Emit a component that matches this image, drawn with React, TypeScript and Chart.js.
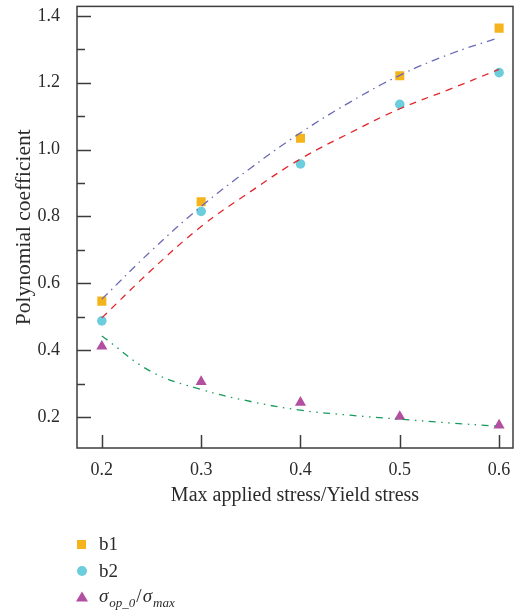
import React, { useEffect, useRef } from 'react';
import { Chart, registerables } from 'chart.js';

Chart.register(...registerables);

// ---- data ----
const stressRatios = [0.2, 0.3, 0.4, 0.5, 0.6];
const b1Values = [0.547, 0.844, 1.034, 1.221, 1.363];
const b2Values = [0.488, 0.815, 0.957, 1.135, 1.23];
const sigmaRatioValues = [0.412, 0.306, 0.244, 0.202, 0.176];

const fitX = [0.2, 0.25, 0.3, 0.35, 0.4, 0.45, 0.5, 0.55, 0.6];
const b1Fit = [0.553, 0.698, 0.83, 0.945, 1.05, 1.142, 1.222, 1.285, 1.335];
const b2Fit = [0.497, 0.64, 0.77, 0.875, 0.972, 1.05, 1.122, 1.18, 1.24];
const sigmaRatioFit = [0.443, 0.336, 0.283, 0.247, 0.221, 0.206, 0.194, 0.183, 0.173];

const xTickValues = [0.2, 0.3, 0.4, 0.5, 0.6];
const yTickValues = [0.2, 0.4, 0.6, 0.8, 1.0, 1.2, 1.4];
const yMinorTickValues = [0.3, 0.5, 0.7, 0.9, 1.1, 1.3];

const xTitle = 'Max applied stress/Yield stress';
const yTitle = 'Polynomial coefficient';

const SERIF = '"Liberation Serif", "DejaVu Serif", serif';
const TEXT = '#2b2b2b';
const AXIS = '#3c3c3c';
const C_B1 = '#f5b41c';
const C_B2 = '#6ccddd';
const C_SIG = '#b34fa0';

const pts = (xs: number[], ys: number[]) => xs.map((x, i) => ({ x, y: ys[i] }));

const framePlugin = {
  id: 'frameTicks',
  beforeDatasetsDraw(chart: any) {
    const { ctx, chartArea: a, scales } = chart;
    const x = scales.x;
    const y = scales.y;
    ctx.save();
    ctx.strokeStyle = AXIS;
    ctx.lineWidth = 1.5;
    ctx.strokeRect(a.left, a.top, a.right - a.left, a.bottom - a.top);
    ctx.beginPath();
    yTickValues.forEach((v) => {
      const py = Math.round(y.getPixelForValue(v)) + 0.5;
      ctx.moveTo(a.left, py);
      ctx.lineTo(a.left + 14, py);
    });
    yMinorTickValues.forEach((v) => {
      const py = Math.round(y.getPixelForValue(v)) + 0.5;
      ctx.moveTo(a.left, py);
      ctx.lineTo(a.left + 8, py);
    });
    xTickValues.forEach((v) => {
      const px = Math.round(x.getPixelForValue(v)) + 0.5;
      ctx.moveTo(px, a.bottom);
      ctx.lineTo(px, a.bottom - 13);
    });
    ctx.stroke();
    ctx.restore();
  },
  afterDraw(chart: any) {
    const { ctx } = chart;
    ctx.save();
    // legend markers
    ctx.fillStyle = C_B1;
    ctx.fillRect(77, 540, 9, 9);
    ctx.fillStyle = C_B2;
    ctx.beginPath();
    ctx.arc(82, 571, 5, 0, Math.PI * 2);
    ctx.fill();
    ctx.fillStyle = C_SIG;
    ctx.beginPath();
    ctx.moveTo(82, 591.5);
    ctx.lineTo(88, 601.5);
    ctx.lineTo(76, 601.5);
    ctx.closePath();
    ctx.fill();
    // legend text
    ctx.fillStyle = TEXT;
    ctx.textBaseline = 'alphabetic';
    ctx.textAlign = 'left';
    ctx.font = `19px ${SERIF}`;
    ctx.fillText('b1', 99, 550);
    ctx.fillText('b2', 99, 577);
    let cx = 99;
    ctx.font = `italic 19px ${SERIF}`;
    ctx.fillText('σ', cx, 602);
    cx += ctx.measureText('σ').width + 1;
    ctx.font = `italic 13px ${SERIF}`;
    ctx.fillText('op_0', cx, 607);
    cx += ctx.measureText('op_0').width + 1;
    ctx.font = `19px ${SERIF}`;
    ctx.fillText('/', cx, 602);
    cx += ctx.measureText('/').width + 1;
    ctx.font = `italic 19px ${SERIF}`;
    ctx.fillText('σ', cx, 602);
    cx += ctx.measureText('σ').width + 1;
    ctx.font = `italic 13px ${SERIF}`;
    ctx.fillText('max', cx, 607);
    ctx.restore();
  },
};

export default function App() {
  const ref = useRef<HTMLCanvasElement | null>(null);

  useEffect(() => {
    if (!ref.current) return;
    const chart = new Chart(ref.current, {
      type: 'scatter',
      data: {
        datasets: [
          {
            type: 'line',
            label: 'b1 fit',
            data: pts(fitX, b1Fit),
            borderColor: '#6b6ab8',
            borderWidth: 1.3,
            borderDash: [8, 5, 1.5, 5],
            pointRadius: 0,
            tension: 0.4,
            fill: false,
          },
          {
            type: 'line',
            label: 'b2 fit',
            data: pts(fitX, b2Fit),
            borderColor: '#e0262c',
            borderWidth: 1.3,
            borderDash: [7, 6],
            pointRadius: 0,
            tension: 0.4,
            fill: false,
          },
          {
            type: 'line',
            label: 'ratio fit',
            data: pts(fitX, sigmaRatioFit),
            borderColor: '#179a5c',
            borderWidth: 1.3,
            borderDash: [7, 5.5, 1.5, 5.5, 1.5, 5.5],
            pointRadius: 0,
            tension: 0.4,
            fill: false,
          },
          {
            label: 'b1',
            data: pts(stressRatios, b1Values),
            pointStyle: 'rect',
            pointRadius: 6.4,
            backgroundColor: C_B1,
            borderWidth: 0,
          },
          {
            label: 'b2',
            data: pts(stressRatios, b2Values),
            pointStyle: 'circle',
            pointRadius: 4.8,
            backgroundColor: C_B2,
            borderWidth: 0,
          },
          {
            label: 'σop_0/σmax',
            data: pts(stressRatios, sigmaRatioValues),
            pointStyle: 'triangle',
            pointRadius: 6.4,
            backgroundColor: C_SIG,
            borderWidth: 0,
          },
        ],
      } as any,
      options: {
        responsive: false,
        animation: false,
        layout: { padding: { top: 3, right: 7, bottom: 101, left: 0 } },
        plugins: {
          legend: { display: false },
          tooltip: { enabled: false },
        },
        scales: {
          x: {
            type: 'linear',
            min: 0.175,
            max: 0.614,
            afterBuildTicks: (s: any) => {
              s.ticks = xTickValues.map((v) => ({ value: v }));
            },
            afterFit: (s: any) => {
              s.height = 67;
              s.paddingLeft = 0;
              s.paddingRight = 0;
            },
            grid: { display: false },
            border: { display: false },
            ticks: {
              autoSkip: false,
              maxRotation: 0,
              padding: 3,
              color: TEXT,
              font: { family: SERIF, size: 18 },
              callback: (v: any) => Number(v).toFixed(1),
            },
            title: {
              display: true,
              text: xTitle,
              color: TEXT,
              font: { family: SERIF, size: 20 },
              padding: { top: 0, bottom: 7 },
            },
          },
          y: {
            type: 'linear',
            min: 0.108,
            max: 1.428,
            afterBuildTicks: (s: any) => {
              s.ticks = yTickValues.map((v) => ({ value: v }));
            },
            afterFit: (s: any) => {
              s.width = 77;
              s.paddingTop = 0;
              s.paddingBottom = 0;
            },
            grid: { display: false },
            border: { display: false },
            ticks: {
              autoSkip: false,
              padding: 9,
              color: TEXT,
              font: { family: SERIF, size: 18 },
              callback: (v: any) => Number(v).toFixed(1),
            },
            title: {
              display: true,
              text: yTitle,
              color: TEXT,
              font: { family: SERIF, size: 21.5 },
              padding: { top: 11, bottom: 0 },
            },
          },
        },
      } as any,
      plugins: [framePlugin],
    });
    return () => chart.destroy();
  }, []);

  return (
    <div style={{ position: 'absolute', left: 0, top: 0, width: 520, height: 616, background: '#fff' }}>
      <canvas ref={ref} width={520} height={616} style={{ display: 'block', width: 520, height: 616 }} />
    </div>
  );
}
